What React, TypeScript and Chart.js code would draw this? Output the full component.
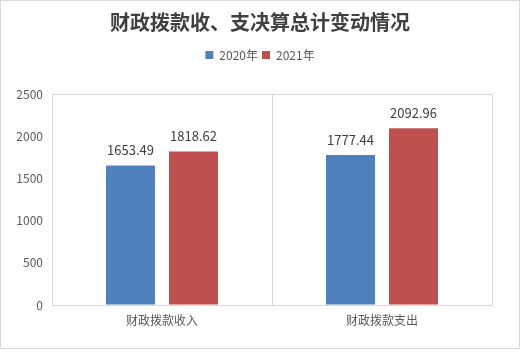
import React, { useEffect, useRef } from "react";
import { Chart, registerables, layouts } from "chart.js";

Chart.register(...registerables);

const categories = ["财政拨款收入", "财政拨款支出"];
const seriesNames = ["2020年", "2021年"];
const values2020 = [1653.49, 1777.44];
const values2021 = [1818.62, 2092.96];
const yTicks = [0, 500, 1000, 1500, 2000, 2500];
const titleText = "财政拨款收、支决算总计变动情况";

const FONT = '"Noto Sans CJK SC", "Noto Sans", sans-serif';

function makeSpacer(position: string, size: number, fullSize: boolean, weight: number) {
  const horizontal = position === "top" || position === "bottom";
  return {
    position,
    weight,
    fullSize,
    options: {},
    left: 0,
    top: 0,
    right: 0,
    bottom: 0,
    width: 0,
    height: 0,
    isHorizontal() {
      return horizontal;
    },
    update(maxWidth: number, maxHeight: number) {
      if (horizontal) {
        this.width = maxWidth;
        this.height = size;
      } else {
        this.width = size;
        this.height = maxHeight;
      }
    },
    draw() {},
  };
}

const spacerPlugin = {
  id: "layoutSpacers",
  start(chart: any) {
    const boxes = [
      makeSpacer("top", 23, true, 500),
      makeSpacer("right", 28, false, 0),
    ];
    chart.$spacers = boxes;
    boxes.forEach((b) => layouts.addBox(chart, b as any));
  },
  stop(chart: any) {
    (chart.$spacers || []).forEach((b: any) => layouts.removeBox(chart, b));
  },
};

const dataLabelPlugin = {
  id: "dataLabels",
  afterDatasetsDraw(chart: any) {
    const ctx = chart.ctx;
    ctx.save();
    ctx.font = `13px ${FONT}`;
    ctx.fillStyle = "#404040";
    ctx.textAlign = "center";
    ctx.textBaseline = "middle";
    chart.data.datasets.forEach((ds: any, i: number) => {
      const meta = chart.getDatasetMeta(i);
      meta.data.forEach((bar: any, j: number) => {
        const v = ds.data[j];
        ctx.fillText(v.toFixed(2), bar.x, bar.y - 15);
      });
    });
    ctx.restore();
  },
};

export default function App() {
  const ref = useRef<HTMLCanvasElement>(null);
  useEffect(() => {
    document.body.style.margin = "0";
    const chart = new Chart(ref.current as HTMLCanvasElement, {
      type: "bar",
      data: {
        labels: categories,
        datasets: [
          {
            label: seriesNames[0],
            data: values2020,
            backgroundColor: "#4f81bd",
            categoryPercentage: 0.5727,
            barPercentage: 0.778,
          },
          {
            label: seriesNames[1],
            data: values2021,
            backgroundColor: "#c0504d",
            categoryPercentage: 0.5727,
            barPercentage: 0.778,
          },
        ],
      },
      options: {
        animation: false,
        responsive: false,
        maintainAspectRatio: false,
        layout: { padding: { top: 0, left: 0, right: 0, bottom: 30 } },
        plugins: {
          title: {
            display: true,
            text: titleText,
            color: "#404040",
            font: { family: FONT, size: 20, weight: "bold" },
            padding: { top: 10, bottom: 11 },
          },
          legend: {
            display: true,
            position: "top",
            labels: {
              boxWidth: 8,
              boxHeight: 8,
              padding: 4,
              color: "#595959",
              font: { family: FONT, size: 12 },
            },
          },
          tooltip: { enabled: false },
        },
        scales: {
          x: {
            grid: {
              display: true,
              offset: true,
              color: "#d9d9d9",
              drawTicks: false,
            },
            border: { display: true, color: "#d9d9d9" },
            ticks: {
              color: "#595959",
              font: { family: FONT, size: 12 },
              padding: 8,
            },
            afterFit: (scale: any) => {
              scale.height = 22;
            },
          },
          y: {
            min: 0,
            max: 2500,
            afterBuildTicks: (scale: any) => {
              scale.ticks = yTicks.map((v) => ({ value: v }));
            },
            grid: {
              display: true,
              drawTicks: false,
              color: (c: any) =>
                c.tick && c.tick.value === yTicks[yTicks.length - 1]
                  ? "#d9d9d9"
                  : "rgba(0,0,0,0)",
            },
            border: { display: true, color: "#d9d9d9" },
            ticks: {
              color: "#595959",
              font: { family: FONT, size: 12 },
              padding: 9,
              callback: (v: any) => String(v),
            },
            afterFit: (scale: any) => {
              scale.width = 52;
            },
          },
        },
      },
      plugins: [spacerPlugin, dataLabelPlugin],
    });
    return () => chart.destroy();
  }, []);

  return (
    <div style={{ position: "relative", width: 520, height: 357, background: "#fff" }}>
      <canvas
        ref={ref}
        width={520}
        height={357}
        style={{ position: "absolute", left: 0, top: 0, width: 520, height: 357 }}
      />
      <div
        style={{
          position: "absolute",
          left: 0,
          top: 0,
          width: 520,
          height: 349,
          boxSizing: "border-box",
          border: "1px solid #d9d9d9",
          pointerEvents: "none",
        }}
      />
    </div>
  );
}
